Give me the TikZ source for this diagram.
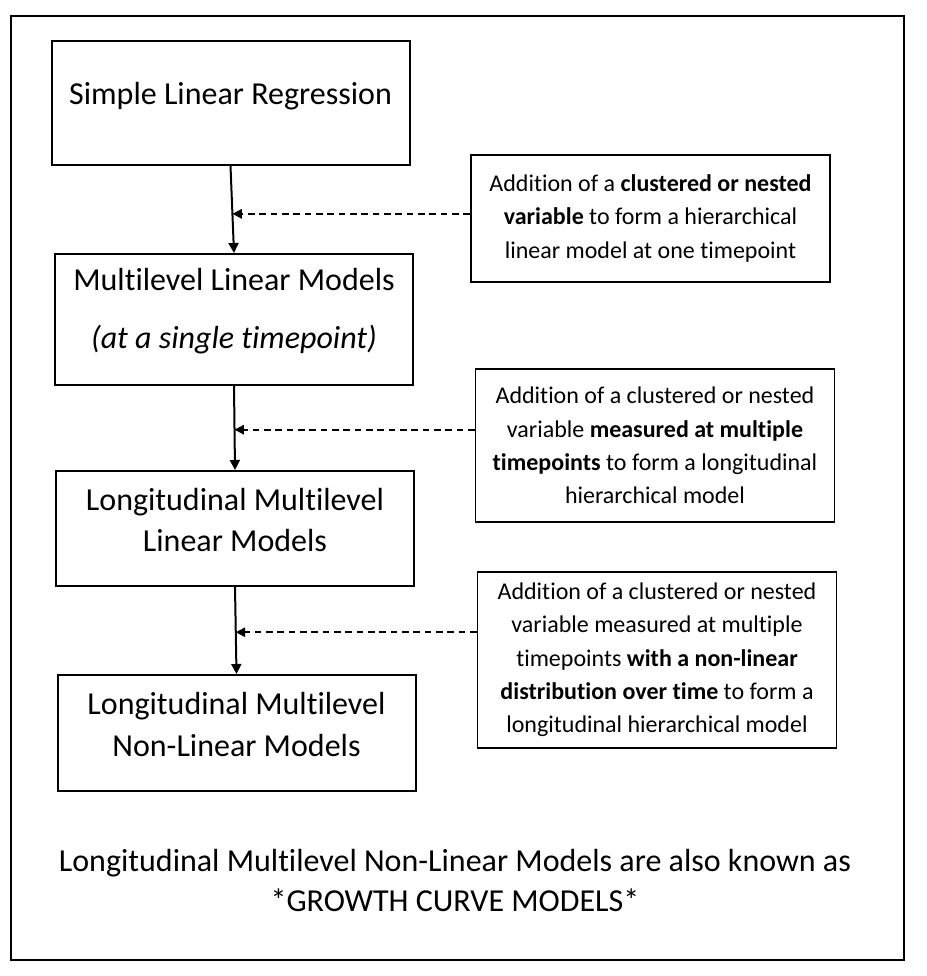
\documentclass[tikz,border=0pt]{standalone}
\usepackage{fontspec}
\setmainfont{Carlito}[Ligatures=NoCommon]
\usetikzlibrary{arrows.meta,positioning,calc}

\begin{document}
\begin{tikzpicture}[x=0.75pt,y=-0.75pt,
	modelbox/.style={rectangle, draw, line width=1.5pt, minimum width=268.5pt},
	modeltext/.style={align=center, font=\fontsize{24pt}{31pt}\selectfont},
	notebox/.style={rectangle, draw, line width=1.4pt, minimum width=269.25pt, align=center, font=\fontsize{18pt}{25pt}\selectfont},
	flow/.style={line width=1.5pt, -{Triangle[length=7.5pt,width=7.5pt]}},
	hint/.style={line width=1.3pt, dash pattern=on 5pt off 3.5pt, -{Triangle[length=7pt,width=7pt]}}]
	\useasboundingbox (0,0) rectangle (926,976);
	\draw[line width=1.5pt] (11,16) rectangle (904,960);
	
	% model boxes
	\node[modelbox, minimum height=93pt] (slr) at (230.5,103) {};
	\node[modelbox, minimum height=98.25pt] (mlm) at (234,319.5) {};
	\node[modelbox, minimum height=86.25pt] (lml) at (235,528.5) {};
	\node[modelbox, minimum height=87pt] (lmn) at (236.5,733) {};
	
	\node[modeltext] (slr-t) at ([yshift=5pt]slr.center) {Simple Linear Regression};
	\node[modeltext] (mlm-t) at ([yshift=6.2pt]mlm.center) {Multilevel Linear Models\\[13pt] \textit{(at a single timepoint)}};
	\node[modeltext] (lml-t) at ([yshift=6.2pt]lml.center) {Longitudinal Multilevel\\ Linear Models};
	\node[modeltext] (lmn-t) at ([yshift=6.5pt]lmn.center) {Longitudinal Multilevel\\ Non-Linear Models};
	
	% notes
	\node[notebox, minimum height=95.25pt] (add-a) at (650.5,218.5) {Addition of a \textbf{clustered or nested}\\ \textbf{variable} to form a hierarchical\\ linear model at one timepoint};
	\node[notebox, minimum height=114.75pt] (add-b) at (655,445.5) {Addition of a clustered or nested\\ variable \textbf{measured at multiple}\\ \textbf{timepoints} to form a longitudinal\\ hierarchical model};
	\node[notebox, minimum height=132pt] (add-c) at (657,660) {Addition of a clustered or nested\\ variable measured at multiple\\ timepoints \textbf{with a non-linear}\\ \textbf{distribution over time} to form a\\ longitudinal hierarchical model};
	
	% arrows
	\draw[flow] (slr.south) -- (mlm.north);
	\draw[flow] (mlm.south) -- (lml.north);
	\draw[flow] (lml.south) -- (lmn.north);
	
	\coordinate (m1) at ($(slr.south)!0.55!(mlm.north)$);
	\coordinate (m2) at ($(mlm.south)!0.52!(lml.north)$);
	\coordinate (m3) at ($(lml.south)!0.52!(lmn.north)$);
	\draw[hint] (m1 -| add-a.west) -- (m1);
	\draw[hint] (m2 -| add-b.west) -- (m2);
	\draw[hint] (m3 -| add-c.west) -- (m3);
	
	\node[modeltext, font=\fontsize{24pt}{30pt}\selectfont] (aka) at (455,880) {Longitudinal Multilevel Non-Linear Models are also known as\\ *GROWTH CURVE MODELS*};
\end{tikzpicture}
\end{document}
